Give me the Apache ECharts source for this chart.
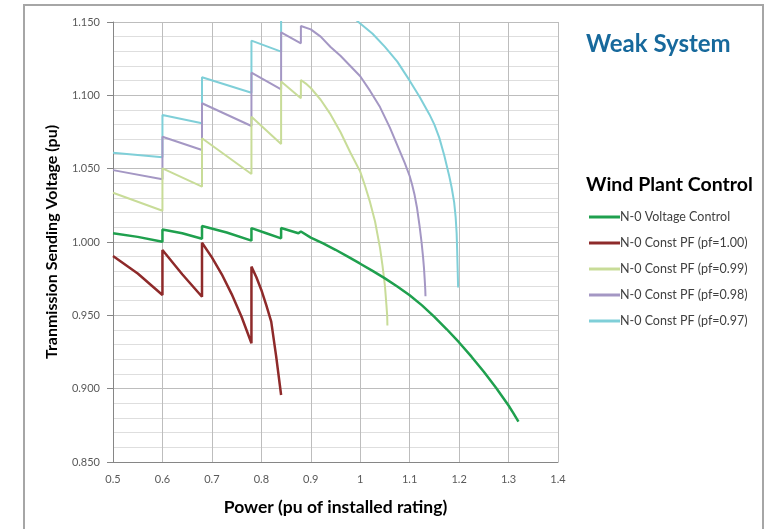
<!DOCTYPE html>
<html>
<head>
<meta charset="utf-8">
<script src="https://cdn.jsdelivr.net/npm/echarts@6/dist/echarts.min.js"></script>
<style>
html,body{margin:0;padding:0;background:#fff;}
#chart{width:767px;height:529px;}
</style>
</head>
<body>
<div id="chart"></div>
<script>
const seriesNames = [
  'N-0 Voltage Control',
  'N-0 Const PF (pf=1.00)',
  'N-0 Const PF (pf=0.99)',
  'N-0 Const PF (pf=0.98)',
  'N-0 Const PF (pf=0.97)'
];

const voltageControl = [[0.5,1.0059],[0.55,1.0035],[0.6,1.0002],[0.6,1.0085],[0.64,1.006],[0.68,1.0022],[0.68,1.0109],[0.73,1.0065],[0.78,1.0009],[0.78,1.0095],[0.81,1.006],[0.84,1.0025],[0.84,1.0095],[0.86,1.0075],[0.875,1.006],[0.88,1.0072],[0.9,1.003],[0.925,0.999],[0.95,0.9947],[0.975,0.990],[1.0,0.9852],[1.025,0.9803],[1.05,0.9752],[1.075,0.9697],[1.1,0.9637],[1.125,0.9568],[1.15,0.949],[1.175,0.9405],[1.2,0.9315],[1.225,0.9218],[1.25,0.9115],[1.275,0.9005],[1.3,0.8885],[1.31,0.8832],[1.32,0.8775]];

const pf100 = [[0.5,0.9905],[0.55,0.9785],[0.6,0.9639],[0.6,0.9945],[0.64,0.978],[0.68,0.9627],[0.68,0.9995],[0.7,0.9895],[0.72,0.978],[0.74,0.9645],[0.76,0.949],[0.78,0.931],[0.78,0.9832],[0.79,0.976],[0.8,0.9673],[0.81,0.957],[0.82,0.9457],[0.83,0.922],[0.84,0.8957]];

const pf099 = [[0.5,1.0336],[0.6,1.0213],[0.6,1.0502],[0.68,1.0377],[0.68,1.0707],[0.78,1.0464],[0.78,1.0854],[0.84,1.0668],[0.84,1.1095],[0.88,1.098],[0.88,1.1105],[0.89,1.108],[0.9,1.105],[0.92,1.097],[0.94,1.087],[0.96,1.075],[0.98,1.061],[1.0,1.048],[1.01,1.038],[1.02,1.027],[1.03,1.014],[1.04,0.996],[1.045,0.984],[1.05,0.970],[1.053,0.957],[1.0545,0.950],[1.055,0.943]];

const pf098 = [[0.5,1.049],[0.6,1.0428],[0.6,1.0718],[0.68,1.0627],[0.68,1.0946],[0.78,1.0791],[0.78,1.1154],[0.84,1.1041],[0.84,1.143],[0.88,1.1355],[0.88,1.1473],[0.9,1.145],[0.92,1.140],[0.94,1.133],[0.96,1.127],[0.98,1.120],[1.0,1.113],[1.02,1.103],[1.04,1.092],[1.06,1.078],[1.08,1.062],[1.09,1.054],[1.1,1.045],[1.105,1.039],[1.11,1.032],[1.115,1.023],[1.12,1.011],[1.124,1.000],[1.127,0.990],[1.129,0.982],[1.1305,0.974],[1.1315,0.968],[1.132,0.963]];

const pf097 = [[0.5,1.0609],[0.6,1.0578],[0.6,1.0866],[0.68,1.0809],[0.68,1.1123],[0.78,1.1018],[0.78,1.1373],[0.84,1.1298],[0.84,1.168],[0.88,1.160],[0.88,1.175],[0.94,1.166],[1.0,1.149],[1.025,1.142],[1.05,1.133],[1.075,1.123],[1.1,1.110],[1.12,1.099],[1.14,1.087],[1.15,1.080],[1.16,1.071],[1.17,1.059],[1.18,1.045],[1.185,1.037],[1.19,1.027],[1.193,1.017],[1.195,1.006],[1.196,0.995],[1.197,0.982],[1.198,0.969]];

const seriesData = [voltageControl, pf100, pf099, pf098, pf097];
const colors = ['#1fa04e', '#8e2a2a', '#c8dc98', '#a497c4', '#7fcfd8'];
const widths = [2.5, 2.5, 2, 2, 2];

const FONT = 'Lato, "Open Sans", sans-serif';
const chart = echarts.init(document.getElementById('chart'), null, {renderer: 'canvas'});

chart.setOption({
  backgroundColor: '#fff',
  animation: false,
  title: [
    {text: 'Weak System', left: 581, top: 27,
     textStyle: {fontFamily: FONT, fontSize: 24, fontWeight: 'bold', color: '#17699c'}},
    {text: 'Wind Plant Control', left: 581, top: 170,
     textStyle: {fontFamily: FONT, fontSize: 19.5, fontWeight: 'bold', color: '#000'}}
  ],
  graphic: [
    {type: 'rect', shape: {x: 24, y: 5, width: 739, height: 540},
     style: {fill: 'none', stroke: '#a6a6a6', lineWidth: 2}, silent: true}
  ],
  legend: {
    orient: 'vertical', left: 584, top: 205,
    itemWidth: 31, itemHeight: 3, itemGap: 12,
    icon: 'rect',
    textStyle: {fontFamily: FONT, fontSize: 12.5, color: '#404040', lineHeight: 14, padding: [0,0,0,-5]},
    data: seriesNames
  },
  grid: {left: 113, top: 22, width: 445, height: 440, containLabel: false},
  xAxis: {
    type: 'value', min: 0.5, max: 1.4, interval: 0.1,
    name: 'Power (pu of installed rating)', nameLocation: 'middle', nameGap: 36,
    nameTextStyle: {fontFamily: FONT, fontSize: 17.5, fontWeight: 'bold', color: '#000'},
    axisLine: {show: true, lineStyle: {color: '#868686', width: 1}},
    axisTick: {show: false},
    axisLabel: {fontFamily: FONT, fontSize: 11, color: '#595959', margin: 12},
    splitLine: {show: true, lineStyle: {color: '#bdbdbd', width: 1}}
  },
  yAxis: {
    type: 'value', min: 0.85, max: 1.15, interval: 0.05,
    name: 'Tranmission Sending Voltage (pu)', nameLocation: 'middle', nameGap: 53, nameRotate: 90,
    nameTextStyle: {fontFamily: FONT, fontSize: 16, fontWeight: 'bold', color: '#000'},
    axisLine: {show: true, lineStyle: {color: '#868686', width: 1}},
    axisTick: {show: true, length: 6, lineStyle: {color: '#868686'}},
    axisLabel: {fontFamily: FONT, fontSize: 11, color: '#595959', margin: 13,
      formatter: v => v.toFixed(3)},
    splitLine: {show: true, lineStyle: {color: '#bdbdbd', width: 1}},
    minorTick: {show: false, splitNumber: 5},
    minorSplitLine: {show: true, lineStyle: {color: '#dedede', width: 1}}
  },
  series: seriesData.map((d, i) => ({
    name: seriesNames[i], type: 'line', data: d,
    showSymbol: false, symbol: 'none', clip: true,
    color: colors[i],
    lineStyle: {color: colors[i], width: widths[i]},
    z: 10 - i
  }))
});
</script>
</body>
</html>
